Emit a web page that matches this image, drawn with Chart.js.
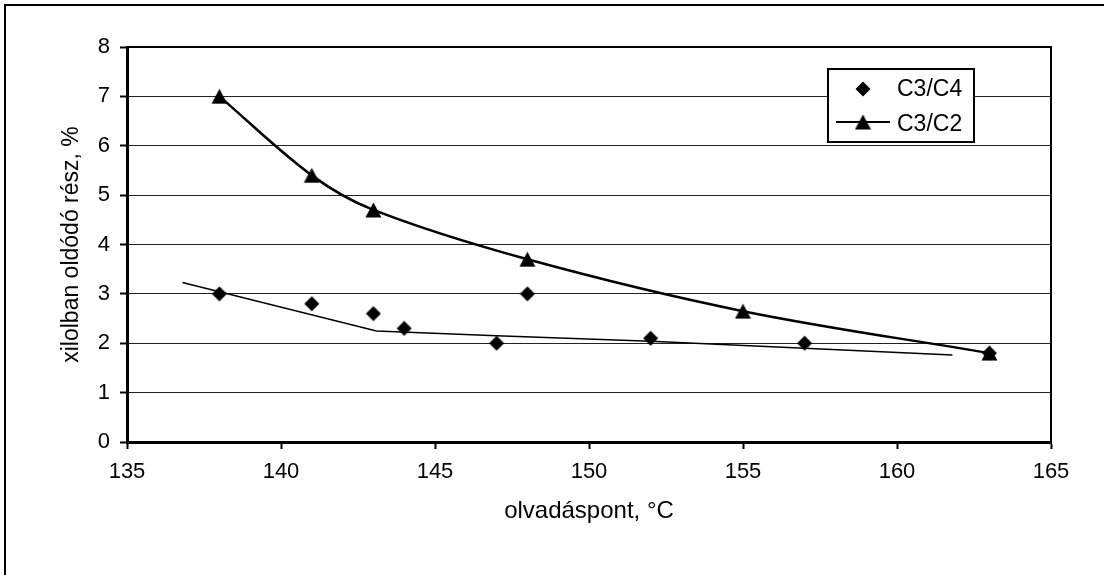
<!DOCTYPE html>
<html><head><meta charset="utf-8">
<script src="https://cdn.jsdelivr.net/npm/chart.js@4"></script>
<style>html,body{margin:0;padding:0;background:#fff}#wrap{position:relative;width:1104px;height:575px}</style>
</head><body><div id="wrap"><canvas id="c" width="1104" height="575"></canvas></div>
<script>
// ---- data ----
const xMin = 135, xMax = 165, xStep = 5;
const yMin = 0, yMax = 8, yStep = 1;
const xTitle = 'olvadáspont, °C';
const yTitle = 'xilolban oldódó rész, %';
const c34Label = 'C3/C4';
const c34X = [138, 141, 143, 144, 147, 148, 152, 157, 163];
const c34Y = [3.0, 2.8, 2.6, 2.3, 2.0, 3.0, 2.1, 2.0, 1.8];
const c2Label = 'C3/C2';
const c2X = [138, 141, 143, 148, 155, 163];
const c2Y = [7.0, 5.4, 4.7, 3.7, 2.65, 1.8];
const trendX = [136.8, 143.1, 147, 152, 157, 161.8];
const trendY = [3.23, 2.25, 2.15, 2.04, 1.9, 1.76];

const FONT = '"Liberation Sans", Arial, sans-serif';
const zip = (xs, ys) => xs.map((x, i) => ({x: x, y: ys[i]}));

// triangle marker centred in its box
const tri = document.createElement('canvas');
tri.width = 17; tri.height = 16;
(function(){
  const t = tri.getContext('2d');
  t.fillStyle = '#000';
  t.beginPath(); t.moveTo(8.5, 0.5); t.lineTo(16.5, 15.5); t.lineTo(0.5, 15.5); t.closePath(); t.fill();
})();
// diamond marker
const dia = document.createElement('canvas');
dia.width = 16; dia.height = 16;
(function(){
  const t = dia.getContext('2d');
  t.fillStyle = '#000';
  t.beginPath(); t.moveTo(8, 0.5); t.lineTo(15.5, 8); t.lineTo(8, 15.5); t.lineTo(0.5, 8); t.closePath(); t.fill();
})();

const framePlugin = {
  id: 'frame',
  beforeDraw(chart) {
    const ctx = chart.ctx;
    ctx.save();
    ctx.fillStyle = '#fff';
    ctx.fillRect(0, 0, chart.width, chart.height);
    ctx.strokeStyle = '#000'; ctx.lineWidth = 2;
    ctx.beginPath();
    ctx.moveTo(5, chart.height); ctx.lineTo(5, 5); ctx.lineTo(chart.width, 5);
    ctx.stroke();
    ctx.restore();
  },
  afterDraw(chart) {
    const ctx = chart.ctx, a = chart.chartArea;
    ctx.save();
    ctx.strokeStyle = '#000'; ctx.lineWidth = 2;
    ctx.beginPath();
    ctx.moveTo(a.left, a.top); ctx.lineTo(a.right, a.top); ctx.lineTo(a.right, a.bottom);
    ctx.stroke();
    // legend
    const bx = 828, by = 69, bw = 146, bh = 73;
    ctx.fillStyle = '#fff';
    ctx.fillRect(bx, by, bw, bh);
    ctx.lineWidth = 2;
    ctx.strokeRect(bx, by, bw, bh);
    ctx.fillStyle = '#000';
    ctx.drawImage(dia, 863 - dia.width / 2, 89 - dia.height / 2);
    ctx.beginPath(); ctx.moveTo(836, 122); ctx.lineTo(890, 122); ctx.stroke();
    ctx.drawImage(tri, 863 - tri.width / 2, 122 - tri.height / 2);
    ctx.font = '23px ' + FONT;
    ctx.textBaseline = 'alphabetic';
    ctx.textAlign = 'left';
    ctx.fillText(chart.data.datasets[0].label, 897, 96);
    ctx.fillText(chart.data.datasets[1].label, 897, 131);
    ctx.restore();
  }
};

new Chart(document.getElementById('c'), {
  type: 'scatter',
  data: {
    datasets: [
      { label: c34Label, data: zip(c34X, c34Y), showLine: false, pointStyle: dia, pointRadius: 8, pointHoverRadius: 8,
        backgroundColor: '#000', borderColor: '#000', borderWidth: 0 },
      { label: c2Label, data: zip(c2X, c2Y), showLine: true, pointStyle: tri, pointRadius: 8,
        borderColor: '#000', backgroundColor: '#000', borderWidth: 2.5, tension: 0.35 },
      { label: 'trend', data: zip(trendX, trendY), showLine: true, pointRadius: 0, borderColor: '#000', borderWidth: 1.5, tension: 0 }
    ]
  },
  options: {
    responsive: false,
    animation: false,
    layout: { padding: { left: 40, right: 53, top: 47, bottom: 33 } },
    plugins: { legend: { display: false }, tooltip: { enabled: false } },
    scales: {
      x: {
        type: 'linear', min: xMin, max: xMax,
        ticks: { stepSize: xStep, color: '#000', font: { family: FONT, size: 22 }, padding: 10, maxRotation: 0 },
        grid: { drawOnChartArea: false, drawTicks: true, tickLength: 7, tickColor: '#000', tickWidth: 2 },
        border: { color: '#000', width: 3 },
        title: { display: true, text: xTitle, color: '#000', font: { family: FONT, size: 24 }, padding: { top: 16, bottom: 16 } },
        afterFit: s => { s.height = 100; }
      },
      y: {
        min: yMin, max: yMax,
        ticks: { stepSize: yStep, color: '#000', font: { family: FONT, size: 22 }, padding: 10 },
        grid: { color: '#222', lineWidth: 1, tickLength: 7, tickColor: '#000', tickWidth: 2 },
        border: { color: '#000', width: 3 },
        title: { display: true, text: yTitle, color: '#000', font: { family: FONT, size: 23 }, padding: { top: 18, bottom: 18 } },
        afterFit: s => { s.width = 87; }
      }
    }
  },
  plugins: [framePlugin]
});
</script>
</body></html>
